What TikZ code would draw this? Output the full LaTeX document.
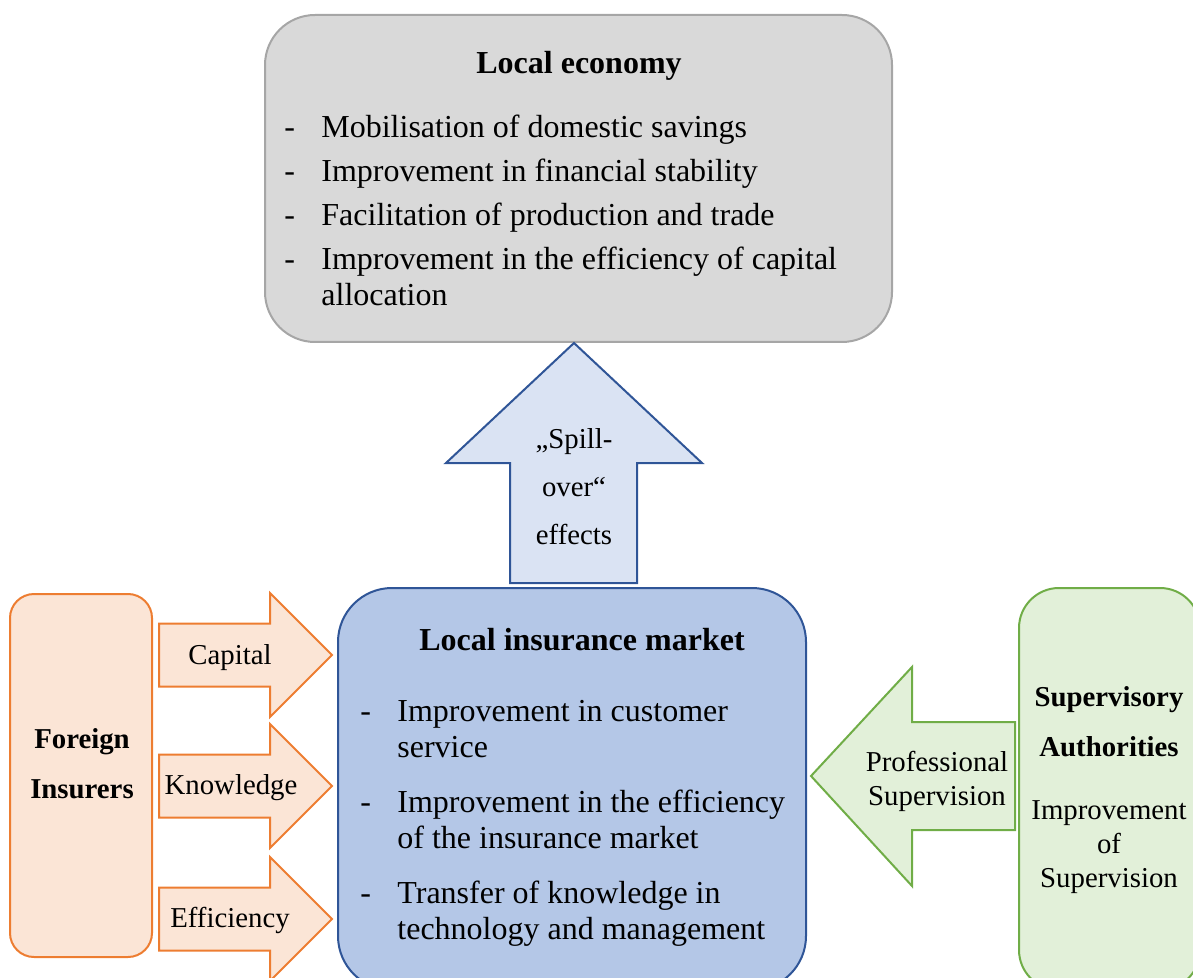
\documentclass[tikz,border=0pt]{standalone}
\usepackage{fontspec}
\setmainfont{Liberation Serif}
\usepackage{array}

\definecolor{ecofill}{HTML}{D9D9D9}
\definecolor{ecoline}{HTML}{A6A6A6}
\definecolor{mktfill}{HTML}{B4C7E7}
\definecolor{mktline}{HTML}{2F5597}
\definecolor{spillfill}{HTML}{DAE3F3}
\definecolor{forfill}{HTML}{FBE5D6}
\definecolor{forline}{HTML}{ED7D31}
\definecolor{supfill}{HTML}{E2F0D9}
\definecolor{supline}{HTML}{70AD47}

\tikzset{
  panel/.style={draw, line width=1pt, rounded corners=#1, inner sep=0pt},
  bigtext/.style={font=\fontsize{16}{18}\selectfont},
  smalltext/.style={font=\fontsize{14.4}{17}\selectfont, align=center, inner sep=0pt},
  blockarrow/.style={line width=1pt, line join=miter},
}

\begin{document}
\begin{tikzpicture}[x=0.5pt, y=-0.5pt]
  \useasboundingbox (0,0) rectangle (1193,978);
  \clip (0,0) rectangle (1193,978);

  % boxes
  \node[panel=25pt, fill=ecofill, draw=ecoline, minimum width=313.5pt, minimum height=163.5pt] (eco) at (578.5,178.5) {};
  \node[panel=27pt, fill=mktfill, draw=mktline, minimum width=234pt, minimum height=201pt] (market) at (572,789) {};
  \node[panel=12pt, fill=forfill, draw=forline, minimum width=71pt, minimum height=181.5pt] (foreign) at (81,775.5) {};
  \node[panel=20pt, fill=supfill, draw=supline, minimum width=90.5pt, minimum height=201pt] (super) at (1109.5,789) {};

  % block arrows
  \draw[blockarrow, fill=spillfill, draw=mktline] (510,583) -- (510,463) -- (446,463) -- (574,343)
    -- (702,463) -- (637,463) -- (637,583) -- cycle;
  \foreach \y in {655,786,919}
    \draw[blockarrow, fill=forfill, draw=forline] (159,\y-31.5) -- (270,\y-31.5) -- (270,\y-62)
      -- (332,\y) -- (270,\y+62) -- (270,\y+31.5) -- (159,\y+31.5) -- cycle;
  \draw[blockarrow, fill=supfill, draw=supline] (1015,722) -- (912,722) -- (912,667) -- (811,776)
    -- (912,886) -- (912,830) -- (1015,830) -- cycle;

  % local economy
  \node[bigtext, inner sep=0pt] (ecohead) at (579,66) {\textbf{Local economy}};
  \node[bigtext, inner sep=0pt, anchor=base west] (ecolist) at (284,138) {%
    \begin{tabular}[t]{@{}p{18.5pt}@{}l@{}}
      - & Mobilisation of domestic savings\\[4pt]
      - & Improvement in financial stability\\[4pt]
      - & Facilitation of production and trade\\[4pt]
      - & Improvement in the efficiency of capital\\
        & allocation
    \end{tabular}};

  % local insurance market
  \node[bigtext, inner sep=0pt] (mkthead) at (582,640) {\textbf{Local insurance market}};
  \node[bigtext, inner sep=0pt, anchor=base west] (mktlist) at (360,721) {%
    \begin{tabular}[t]{@{}p{18.5pt}@{}l@{}}
      - & Improvement in customer\\
        & service\\[9.5pt]
      - & Improvement in the efficiency\\
        & of the insurance market\\[9.5pt]
      - & Transfer of knowledge in\\
        & technology and management
    \end{tabular}};

  % foreign insurers
  \node[smalltext, font=\fontsize{14.4}{25}\selectfont\bfseries] (forname) at (82,764) {Foreign\\Insurers};
  \node[smalltext] (capital) at (230,658) {Capital};
  \node[smalltext] (knowledge) at (231,788) {Knowledge};
  \node[smalltext] (efficiency) at (230,920) {Efficiency};

  % supervisory authorities
  \node[smalltext, font=\fontsize{14.4}{25}\selectfont\bfseries] (supname) at (1109,722) {Supervisory\\Authorities};
  \node[smalltext] (supimp) at (1109,847) {Improvement\\of\\Supervision};
  \node[smalltext] (profsup) at (937,781) {Professional\\Supervision};

  % spill-over
  \node[smalltext, font=\fontsize{14.4}{24}\selectfont] (spill) at (574,487) {„Spill-\\over“\\effects};
\end{tikzpicture}
\end{document}
